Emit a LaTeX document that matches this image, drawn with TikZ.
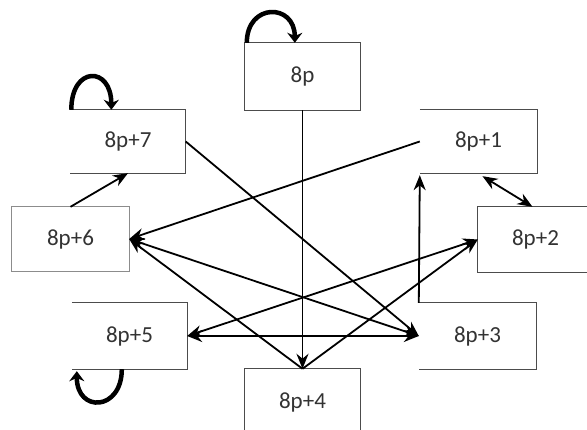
\documentclass[tikz,border=0pt]{standalone}
\usepackage{fontspec}
\setmainfont{Carlito}
\usetikzlibrary{arrows.meta}
\begin{document}
\begin{tikzpicture}[x=1pt,y=-1pt,
  box/.style={minimum width=115pt, minimum height=65pt, inner sep=0pt, font=\fontsize{23}{27}\selectfont, text=black!80},
  side/.style={draw=black!70, line width=1.3pt},
  lightside/.style={draw=black!45, line width=1pt},
  edge/.style={line width=1.8pt, -{Stealth[length=15pt,width=12pt]}},
  bi/.style={line width=1.8pt, {Stealth[length=15pt,width=12pt]}-{Stealth[length=15pt,width=12pt]}},
  loopy/.style={line width=4.5pt, -{Stealth[length=10pt,width=15pt]}}]
\useasboundingbox[fill=white] (0,0) rectangle (587,430);
% nodes
\node[box, minimum height=67pt] (p0) at (302.5,76.5) {8p};
\node[box, minimum height=63pt] (p7) at (128,141.5) {8p+7};
\node[box, minimum width=117pt, minimum height=63pt] (p1) at (478.5,141.5) {8p+1};
\node[box] (p2) at (535.5,239.5) {8p+2};
\node[box, minimum width=117pt, minimum height=64pt] (p6) at (70.5,239) {8p+6};
\node[box, minimum height=66pt] (p5) at (129.5,336) {8p+5};
\node[box, minimum width=117pt, minimum height=66pt] (p3) at (477.5,336) {8p+3};
\node[box, minimum height=67pt] (p4) at (302.5,402.5) {8p+4};
% box sides
\draw[side] (p0.north west) rectangle (p0.south east);
\draw[side] (p7.north west) -- (p7.north east) -- (p7.south east) -- (p7.south west);
\draw[side] (p1.north west) -- (p1.north east) -- (p1.south east) -- (p1.south west);
\draw[side] (p5.north west) -- (p5.north east) -- (p5.south east) -- (p5.south west);
\draw[side] (p3.north west) -- (p3.north east) -- (p3.south east) -- (p3.south west);
\draw[side] (p2.north east) -- (p2.north west) -- (p2.south west) -- (p2.south east);
\draw[lightside] (p6.north west) rectangle (p6.south east);
\draw[side] (p4.south west) -- (p4.north west) -- (p4.north east) -- (p4.south east);
% connectors
\draw[edge] (p0.south) -- (p4.north);
\draw[edge] (p7.east) -- (p3.west);
\draw[edge] (p1.west) -- (p6.east);
\draw[edge] (p6.north) -- (p7.south);
\draw[bi] ([xshift=4pt,yshift=-3pt]p1.south) -- ([xshift=-3pt]p2.north);
\draw[edge] (p3.north west) -- ([yshift=-2pt]p1.south west);
\draw[bi] (p6.east) -- (p3.west);
\draw[bi] (p5.east) -- (p3.west);
\draw[bi] (p5.east) -- (p2.west);
\draw[edge] (p4.north) -- (p2.west);
\draw[edge] (p4.north) -- (p6.east);
% loops
\draw[loopy] ([xshift=2pt]p0.north west) .. controls +(0,-40) and +(0,-40) .. ([xshift=50pt]p0.north west);
\draw[loopy] ([xshift=1pt]p7.north west) .. controls +(0,-44) and +(0,-44) .. ([xshift=41pt]p7.north west);
\draw[loopy] ([xshift=50pt]p5.south west) .. controls +(0,42) and +(0,42) .. ([xshift=5pt,yshift=-2pt]p5.south west);
\end{tikzpicture}
\end{document}
